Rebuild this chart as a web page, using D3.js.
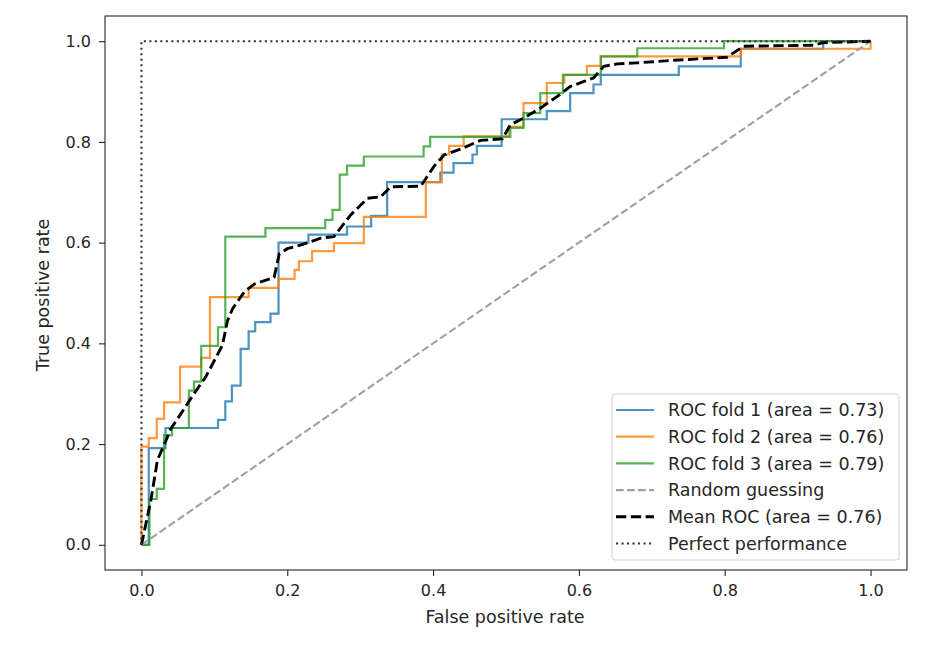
<!DOCTYPE html>
<html>
<head>
<meta charset="utf-8">
<script src="https://cdn.jsdelivr.net/npm/d3@7"></script>
<style>
  html, body { margin: 0; padding: 0; background: #fff; }
  svg { display: block; }
  text { font-family: "DejaVu Sans", sans-serif; fill: #262626; }
</style>
</head>
<body>
<svg id="chart" width="944" height="658"></svg>
<script>
// ---------------- data ----------------
const xTicks = [0.0, 0.2, 0.4, 0.6, 0.8, 1.0];
const yTicks = [0.0, 0.2, 0.4, 0.6, 0.8, 1.0];
const xLabel = "False positive rate";
const yLabel = "True positive rate";

const fold1Fpr = [0,0.010,0.010,0.033,0.033,0.105,0.105,0.115,0.115,0.124,0.124,0.136,0.136,0.147,0.147,0.156,0.156,0.177,0.177,0.188,0.188,0.229,0.229,0.282,0.282,0.315,0.315,0.337,0.337,0.410,0.410,0.428,0.428,0.454,0.454,0.460,0.460,0.494,0.494,0.556,0.556,0.588,0.588,0.620,0.620,0.630,0.630,0.737,0.737,0.822,0.822,0.935,0.935,1.0];
const fold1Tpr = [0,0,0.192,0.192,0.232,0.232,0.248,0.248,0.285,0.285,0.316,0.316,0.389,0.389,0.424,0.424,0.442,0.442,0.459,0.459,0.600,0.600,0.616,0.616,0.632,0.632,0.653,0.653,0.720,0.720,0.739,0.739,0.758,0.758,0.775,0.775,0.792,0.792,0.845,0.845,0.861,0.861,0.897,0.897,0.914,0.914,0.933,0.933,0.950,0.950,0.985,0.985,1.0,1.0];

const fold2Fpr = [0,0,0.010,0.010,0.021,0.021,0.031,0.031,0.053,0.053,0.082,0.082,0.094,0.094,0.147,0.147,0.188,0.188,0.210,0.210,0.216,0.216,0.234,0.234,0.264,0.264,0.305,0.305,0.390,0.390,0.412,0.412,0.422,0.422,0.442,0.442,0.504,0.504,0.524,0.524,0.556,0.556,0.580,0.580,0.611,0.611,0.630,0.630,0.822,0.822,1.0,1.0];
const fold2Tpr = [0,0.195,0.195,0.212,0.212,0.250,0.250,0.283,0.283,0.354,0.354,0.371,0.371,0.492,0.492,0.510,0.510,0.528,0.528,0.546,0.546,0.563,0.563,0.583,0.583,0.599,0.599,0.651,0.651,0.720,0.720,0.775,0.775,0.792,0.792,0.811,0.811,0.830,0.830,0.877,0.877,0.917,0.917,0.933,0.933,0.951,0.951,0.970,0.970,0.985,0.985,1.0];

const fold3Fpr = [0,0.011,0.011,0.021,0.021,0.031,0.031,0.042,0.042,0.065,0.065,0.072,0.072,0.082,0.082,0.105,0.105,0.115,0.115,0.170,0.170,0.252,0.252,0.262,0.262,0.272,0.272,0.282,0.282,0.305,0.305,0.387,0.387,0.396,0.396,0.506,0.506,0.524,0.524,0.547,0.547,0.578,0.578,0.630,0.630,0.680,0.680,0.799,0.799,1.0];
const fold3Tpr = [0,0,0.091,0.091,0.111,0.111,0.218,0.218,0.232,0.232,0.306,0.306,0.324,0.324,0.395,0.395,0.432,0.432,0.612,0.612,0.629,0.629,0.645,0.645,0.665,0.665,0.735,0.735,0.753,0.753,0.771,0.771,0.791,0.791,0.810,0.810,0.828,0.828,0.857,0.857,0.897,0.897,0.933,0.933,0.970,0.970,0.986,0.986,1.0,1.0];

const meanFpr = [0,0.013,0.022,0.034,0.040,0.054,0.072,0.088,0.100,0.111,0.118,0.125,0.141,0.155,0.182,0.189,0.200,0.218,0.246,0.264,0.287,0.310,0.328,0.342,0.383,0.401,0.415,0.438,0.465,0.495,0.506,0.524,0.547,0.570,0.588,0.607,0.620,0.634,0.653,0.680,0.730,0.803,0.826,0.922,0.935,1.0];
const meanTpr = [0,0.089,0.169,0.208,0.230,0.260,0.300,0.333,0.366,0.396,0.445,0.469,0.502,0.518,0.531,0.578,0.588,0.595,0.609,0.612,0.655,0.688,0.691,0.711,0.712,0.751,0.774,0.786,0.803,0.806,0.834,0.847,0.867,0.890,0.910,0.920,0.927,0.950,0.955,0.957,0.962,0.968,0.990,0.992,0.997,1.0];

const randomFpr = [0, 1];
const randomTpr = [0, 1];
const perfectFpr = [0, 0, 1];
const perfectTpr = [0, 1, 1];

const seriesNames = ["ROC fold 1 (area = 0.73)", "ROC fold 2 (area = 0.76)", "ROC fold 3 (area = 0.79)",
                     "Random guessing", "Mean ROC (area = 0.76)", "Perfect performance"];

// ---------------- layout ----------------
const svg = d3.select("#chart");
const plotLeft = 105, plotRight = 907, plotTop = 16, plotBottom = 570;
const x = d3.scaleLinear().domain([-0.05, 1.05]).range([plotLeft, plotRight]);
const y = d3.scaleLinear().domain([-0.05, 1.05]).range([plotBottom, plotTop]);

const zip = (a, b) => a.map((v, i) => [v, b[i]]);
const line = d3.line().x(d => x(d[0])).y(d => y(d[1]));

const styles = [
  {data: zip(fold1Fpr, fold1Tpr), color: "#1f77b4", width: 2.2, dash: null, opacity: 0.8},
  {data: zip(fold2Fpr, fold2Tpr), color: "#ff7f0e", width: 2.2, dash: null, opacity: 0.8},
  {data: zip(fold3Fpr, fold3Tpr), color: "#2ca02c", width: 2.2, dash: null, opacity: 0.8},
  {data: zip(randomFpr, randomTpr), color: "#a0a0a0", width: 2.1, dash: "7.7,3.3", opacity: 1},
  {data: zip(meanFpr, meanTpr), color: "#000000", width: 2.9, dash: "10.3,4.5", opacity: 1},
  {data: zip(perfectFpr, perfectTpr), color: "#333333", width: 2.1, dash: "2.1,3.4", opacity: 1}
];

const clipId = "plotclip";
svg.append("defs").append("clipPath").attr("id", clipId)
  .append("rect").attr("x", plotLeft).attr("y", plotTop).attr("width", plotRight - plotLeft).attr("height", plotBottom - plotTop);

const g = svg.append("g").attr("clip-path", `url(#${clipId})`);
styles.forEach(s => {
  g.append("path")
    .attr("d", line(s.data))
    .attr("fill", "none")
    .attr("stroke", s.color)
    .attr("stroke-width", s.width)
    .attr("stroke-opacity", s.opacity)
    .attr("stroke-dasharray", s.dash)
    .attr("stroke-linejoin", "miter");
});

// axes
const xAxis = d3.axisBottom(x).tickValues(xTicks).tickFormat(d3.format(".1f")).tickSize(6).tickPadding(9);
const yAxis = d3.axisLeft(y).tickValues(yTicks).tickFormat(d3.format(".1f")).tickSize(6).tickPadding(8);

const gx = svg.append("g").attr("transform", `translate(0,${plotBottom})`).call(xAxis);
const gy = svg.append("g").attr("transform", `translate(${plotLeft},0)`).call(yAxis);
[gx, gy].forEach(ax => {
  ax.select(".domain").remove();
  ax.selectAll(".tick line").attr("stroke", "#262626").attr("stroke-width", 1.1);
  ax.selectAll(".tick text").attr("font-size", 16).attr("font-family", "DejaVu Sans").attr("fill", "#262626");
});

// spines
svg.append("rect").attr("x", plotLeft).attr("y", plotTop).attr("width", plotRight - plotLeft).attr("height", plotBottom - plotTop)
  .attr("fill", "none").attr("stroke", "#262626").attr("stroke-width", 1.1);

// axis labels
svg.append("text").attr("x", 505).attr("y", 623).attr("text-anchor", "middle")
  .attr("font-size", 17.5).text(xLabel);
svg.append("text").attr("transform", `translate(48.5,295) rotate(-90)`).attr("text-anchor", "middle")
  .attr("font-size", 17.5).text(yLabel);

// legend
const lg = svg.append("g");
lg.append("rect").attr("x", 612).attr("y", 394).attr("width", 287).attr("height", 166).attr("rx", 3)
  .attr("fill", "#fff").attr("fill-opacity", 0.8).attr("stroke", "#d0d0d0").attr("stroke-width", 1);
seriesNames.forEach((name, i) => {
  const ry = 410 + i * 26.7;
  const s = styles[i];
  lg.append("line").attr("x1", 616).attr("x2", 654).attr("y1", ry).attr("y2", ry)
    .attr("stroke", s.color).attr("stroke-width", s.width).attr("stroke-opacity", s.opacity)
    .attr("stroke-dasharray", s.dash);
  lg.append("text").attr("x", 668).attr("y", ry).attr("dy", "0.36em").attr("font-size", 17.5).text(name);
});
</script>
</body>
</html>
